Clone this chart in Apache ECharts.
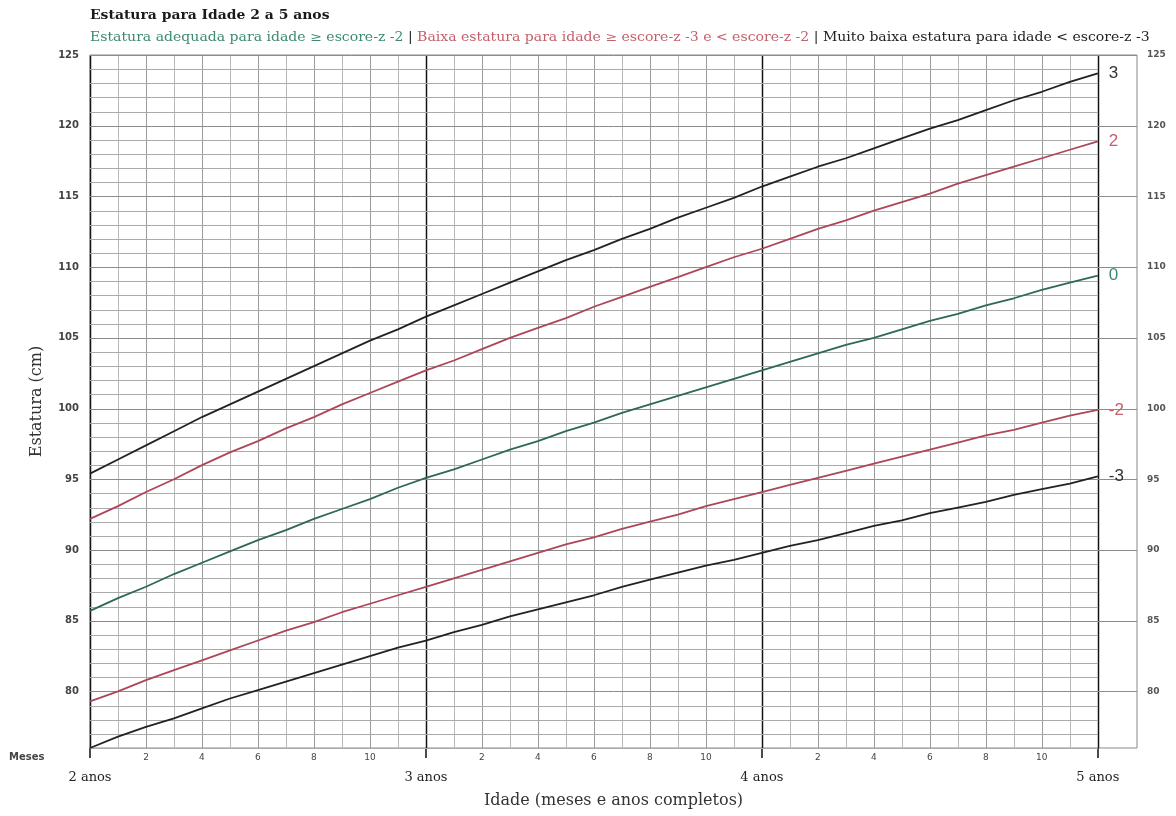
<!DOCTYPE html>
<html><head><meta charset="utf-8">
<script src="https://cdn.jsdelivr.net/npm/echarts@6/dist/echarts.min.js"></script>
<style>html,body{margin:0;padding:0;background:#fff}#c{width:1176px;height:816px}</style>
</head><body><div id="c"></div>
<script>
// Age in months (2 to 5 years)
const months = [24,25,26,27,28,29,30,31,32,33,34,35,36,37,38,39,40,41,42,43,44,45,46,47,48,49,50,51,52,53,54,55,56,57,58,59,60];
// Height (cm) by z-score curve
const zPos3 = [95.4,96.4,97.4,98.4,99.4,100.3,101.2,102.1,103.0,103.9,104.8,105.6,106.5,107.3,108.1,108.9,109.7,110.5,111.2,112.0,112.7,113.5,114.2,114.9,115.7,116.4,117.1,117.7,118.4,119.1,119.8,120.4,121.1,121.8,122.4,123.1,123.7];
const zPos2 = [92.2,93.1,94.1,95.0,96.0,96.9,97.7,98.6,99.4,100.3,101.1,101.9,102.7,103.4,104.2,105.0,105.7,106.4,107.2,107.9,108.6,109.3,110.0,110.7,111.3,112.0,112.7,113.3,114.0,114.6,115.2,115.9,116.5,117.1,117.7,118.3,118.9];
const zMed  = [85.7,86.6,87.4,88.3,89.1,89.9,90.7,91.4,92.2,92.9,93.6,94.4,95.1,95.7,96.4,97.1,97.7,98.4,99.0,99.7,100.3,100.9,101.5,102.1,102.7,103.3,103.9,104.5,105.0,105.6,106.2,106.7,107.3,107.8,108.4,108.9,109.4];
const zNeg2 = [79.3,80.0,80.8,81.5,82.2,82.9,83.6,84.3,84.9,85.6,86.2,86.8,87.4,88.0,88.6,89.2,89.8,90.4,90.9,91.5,92.0,92.5,93.1,93.6,94.1,94.6,95.1,95.6,96.1,96.6,97.1,97.6,98.1,98.5,99.0,99.5,99.9];
const zNeg3 = [76.0,76.8,77.5,78.1,78.8,79.5,80.1,80.7,81.3,81.9,82.5,83.1,83.6,84.2,84.7,85.3,85.8,86.3,86.8,87.4,87.9,88.4,88.9,89.3,89.8,90.3,90.7,91.2,91.7,92.1,92.6,93.0,93.4,93.9,94.3,94.7,95.2];
const curveLabels = ['3','2','0','-2','-3'];
const yearTicks = [24,36,48,60];
const yearLabels = ['2 anos','3 anos','4 anos','5 anos'];

const X_MIN = 24, X_MAX = 61.4, X_LAST = 60;
const Y_MIN = 76, Y_MAX = 125;
const heightLines = [];
for (let h = Y_MIN; h <= Y_MAX; h++) heightLines.push(h);

const colBlack = '#222', colRed = '#ad4656', colGreen = '#2d6858';
const serif = '"DejaVu Serif",serif';
const sans = '"DejaVu Sans",sans-serif';

function curve(name, vals, color, labelColor) {
  return {
    type: 'line', name, z: 5, symbol: 'none', smooth: false,
    data: months.map((m, i) => [m, vals[i]]),
    lineStyle: { color, width: 1.8 },
    endLabel: { show: true, formatter: name, color: labelColor, fontSize: 17, fontFamily: '"Liberation Sans",sans-serif', distance: 11 }
  };
}

const chart = echarts.init(document.getElementById('c'));
chart.setOption({
  backgroundColor: '#fff',
  animation: false,
  grid: { left: 90, right: 39, top: 55, bottom: 68, show: true, borderColor: '#8a8a8a', borderWidth: 1 },
  graphic: [{
    type: 'text', left: 90, top: 10, scaleX: 1.16,
    style: { text: 'Estatura para Idade 2 a 5 anos', fontFamily: serif, fontSize: 12, fontWeight: 'bold', fill: '#1a1a1a' }
  }, {
    type: 'text', left: 90, top: 32, scaleX: 1.17,
    style: {
      text: '{g|Estatura adequada para idade ≥ escore-z -2} {k|| }{r|Baixa estatura para idade ≥ escore-z -3 e < escore-z -2} {k|| Muito baixa estatura para idade < escore-z -3}',
      fontFamily: serif, fontSize: 12,
      rich: {
        g: { fill: '#3b8a70', fontFamily: serif, fontSize: 12 },
        r: { fill: '#c4606c', fontFamily: serif, fontSize: 12 },
        k: { fill: '#222', fontFamily: serif, fontSize: 12 }
      }
    }
  }, {
    type: 'text', left: 9, top: 752,
    style: { text: 'Meses', fontFamily: sans, fontSize: 10, fontWeight: 'bold', fill: '#444' }
  }],
  xAxis: [{
    type: 'value', min: X_MIN, max: X_MAX, interval: 1,
    axisLine: { show: false }, axisTick: { show: false }, splitLine: { show: false },
    axisLabel: {
      showMaxLabel: false, margin: 5, fontFamily: sans, fontSize: 9, color: '#444',
      formatter: v => (v <= X_LAST && v % 12 !== 0 && v % 2 === 0) ? String(v % 12) : ''
    },
    name: 'Idade (meses e anos completos)', nameLocation: 'middle', nameGap: 45,
    nameTextStyle: { fontFamily: serif, fontSize: 16, color: '#333' }
  }, {
    type: 'value', min: X_MIN, max: X_MAX, interval: 12, position: 'bottom',
    axisLine: { show: false }, splitLine: { show: false },
    axisTick: { show: true, length: 10, lineStyle: { color: '#111', width: 1.5 } },
    axisLabel: {
      showMaxLabel: false, margin: 23, fontFamily: serif, fontSize: 13, color: '#222',
      formatter: v => { const i = yearTicks.indexOf(v); return i >= 0 ? yearLabels[i] : ''; }
    }
  }],
  yAxis: [{
    type: 'value', min: Y_MIN, max: Y_MAX, interval: 1, position: 'left',
    axisLine: { show: false }, axisTick: { show: false }, splitLine: { show: false },
    axisLabel: { margin: 11, fontFamily: sans, fontSize: 10, fontWeight: 'bold', color: '#444',
      formatter: v => v % 5 === 0 ? String(v) : '' },
    name: 'Estatura (cm)', nameLocation: 'middle', nameGap: 45,
    nameTextStyle: { fontFamily: serif, fontSize: 16, color: '#333' }
  }, {
    type: 'value', min: Y_MIN, max: Y_MAX, interval: 1, position: 'right',
    axisLine: { show: false }, axisTick: { show: false }, splitLine: { show: false },
    axisLabel: { margin: 10, fontFamily: sans, fontSize: 9, fontWeight: 'bold', color: '#555',
      formatter: v => v % 5 === 0 ? String(v) : '' }
  }],
  series: [
    {
      type: 'custom', silent: true, z: 1,
      data: months.map(m => [m, Y_MIN]),
      renderItem: (params, api) => {
        const m = api.value(0);
        const p0 = api.coord([m, Y_MIN]), p1 = api.coord([m, Y_MAX]);
        const year = m % 12 === 0;
        const x = Math.round(p0[0]) + 0.5;
        return { type: 'line', shape: { x1: x, y1: p0[1], x2: x, y2: p1[1] },
          style: { stroke: year ? '#141414' : (m % 2 === 0 ? '#9a9a9a' : '#b8b8b8'), lineWidth: year ? 1.5 : 1 } };
      }
    },
    {
      type: 'custom', silent: true, z: 1,
      data: heightLines.map(h => [X_MIN, h]),
      renderItem: (params, api) => {
        const h = api.value(1);
        const major = h % 5 === 0;
        const p0 = api.coord([X_MIN, h]), p1 = api.coord([major ? X_MAX : X_LAST, h]);
        const y = Math.round(p0[1]) + 0.5;
        return { type: 'line', shape: { x1: p0[0], y1: y, x2: p1[0], y2: y },
          style: { stroke: major ? '#8c8c8c' : '#aaaaaa', lineWidth: 1 } };
      }
    },
    curve(curveLabels[0], zPos3, colBlack, '#333'),
    curve(curveLabels[1], zPos2, colRed, '#c4606c'),
    curve(curveLabels[2], zMed, colGreen, '#3b8a70'),
    curve(curveLabels[3], zNeg2, colRed, '#c4606c'),
    curve(curveLabels[4], zNeg3, colBlack, '#333')
  ]
});
</script></body></html>
